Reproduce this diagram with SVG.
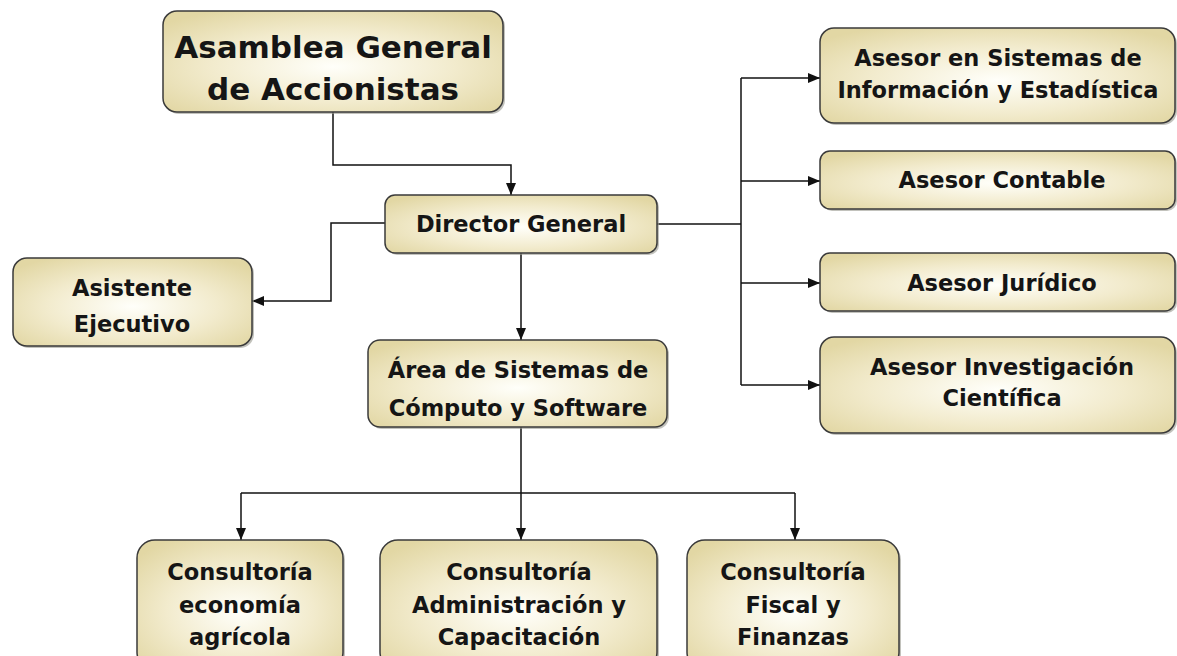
<svg xmlns="http://www.w3.org/2000/svg" width="1177" height="656" viewBox="0 0 1177 656">
<style>
.box{fill:url(#g);stroke:#3a3a3a;stroke-width:1.5}
.sh{fill:#9a9a90;opacity:0.6}
.t{font-family:"DejaVu Sans",sans-serif;font-weight:bold;font-size:22.5px;fill:#151515;text-anchor:middle}
.big{font-size:31px}
.c{fill:none;stroke:#111;stroke-width:1.5}
.a{marker-end:url(#ah)}
</style>
<defs>
<radialGradient id="g" cx="50%" cy="55%" r="65%">
<stop offset="0" stop-color="#fffffa"/>
<stop offset="0.55" stop-color="#f2ebcd"/>
<stop offset="1" stop-color="#e2d7a4"/>
</radialGradient>
<marker id="ah" markerUnits="userSpaceOnUse" markerWidth="13" markerHeight="11" refX="12" refY="5" orient="auto">
<path d="M0,0 L12,5 L0,10 z" fill="#111"/>
</marker>
</defs>
<g id="connectors">
<path class="c a" d="M333,112 V165 H511 V195"/>
<path class="c a" d="M385,223 H331 V301 H252"/>
<path class="c a" d="M521,253 V340"/>
<path class="c" d="M657,224 H741"/>
<path class="c" d="M741,78 V385"/>
<path class="c a" d="M741,78 H820"/>
<path class="c a" d="M741,181 H820"/>
<path class="c a" d="M741,283 H820"/>
<path class="c a" d="M741,385 H820"/>
<path class="c a" d="M521,427 V540"/>
<path class="c" d="M241,493 H795"/>
<path class="c a" d="M241,493 V540"/>
<path class="c a" d="M795,493 V540"/>
</g>
<g id="asamblea">
<rect class="sh" x="165" y="13" width="340" height="101" rx="14"/>
<rect class="box" x="163" y="11" width="340" height="101" rx="14"/>
<text class="t big" x="333" y="58">Asamblea General</text>
<text class="t big" x="333" y="100">de Accionistas</text>
</g>
<g id="director">
<rect class="sh" x="387" y="197" width="272" height="58" rx="10"/>
<rect class="box" x="385" y="195" width="272" height="58" rx="10"/>
<text class="t" x="521" y="232">Director General</text>
</g>
<g id="asistente">
<rect class="sh" x="15" y="260" width="239" height="88" rx="14"/>
<rect class="box" x="13" y="258" width="239" height="88" rx="14"/>
<text class="t" x="132" y="296">Asistente</text>
<text class="t" x="132" y="332">Ejecutivo</text>
</g>
<g id="area">
<rect class="sh" x="370" y="342" width="299" height="87" rx="12"/>
<rect class="box" x="368" y="340" width="299" height="87" rx="12"/>
<text class="t" x="518" y="378">Área de Sistemas de</text>
<text class="t" x="518" y="416">Cómputo y Software</text>
</g>
<g id="asesor-sistemas">
<rect class="sh" x="822" y="30" width="355" height="95" rx="14"/>
<rect class="box" x="820" y="28" width="355" height="95" rx="14"/>
<text class="t" x="998" y="66">Asesor en Sistemas de</text>
<text class="t" x="998" y="98">Información y Estadística</text>
</g>
<g id="asesor-contable">
<rect class="sh" x="822" y="153" width="355" height="58" rx="10"/>
<rect class="box" x="820" y="151" width="355" height="58" rx="10"/>
<text class="t" x="1002" y="188">Asesor Contable</text>
</g>
<g id="asesor-juridico">
<rect class="sh" x="822" y="255" width="355" height="58" rx="10"/>
<rect class="box" x="820" y="253" width="355" height="58" rx="10"/>
<text class="t" x="1002" y="291">Asesor Jurídico</text>
</g>
<g id="asesor-investigacion">
<rect class="sh" x="822" y="339" width="355" height="96" rx="14"/>
<rect class="box" x="820" y="337" width="355" height="96" rx="14"/>
<text class="t" x="1002" y="375">Asesor Investigación</text>
<text class="t" x="1002" y="406">Científica</text>
</g>
<g id="consultoria-agricola">
<rect class="sh" x="139" y="542" width="206" height="130" rx="18"/>
<rect class="box" x="137" y="540" width="206" height="130" rx="18"/>
<text class="t" x="240" y="580">Consultoría</text>
<text class="t" x="240" y="613">economía</text>
<text class="t" x="240" y="645">agrícola</text>
</g>
<g id="consultoria-administracion">
<rect class="sh" x="382" y="542" width="277" height="130" rx="18"/>
<rect class="box" x="380" y="540" width="277" height="130" rx="18"/>
<text class="t" x="519" y="580">Consultoría</text>
<text class="t" x="519" y="613">Administración y</text>
<text class="t" x="519" y="645">Capacitación</text>
</g>
<g id="consultoria-fiscal">
<rect class="sh" x="689" y="542" width="212" height="130" rx="18"/>
<rect class="box" x="687" y="540" width="212" height="130" rx="18"/>
<text class="t" x="793" y="580">Consultoría</text>
<text class="t" x="793" y="613">Fiscal y</text>
<text class="t" x="793" y="645">Finanzas</text>
</g>
</svg>
